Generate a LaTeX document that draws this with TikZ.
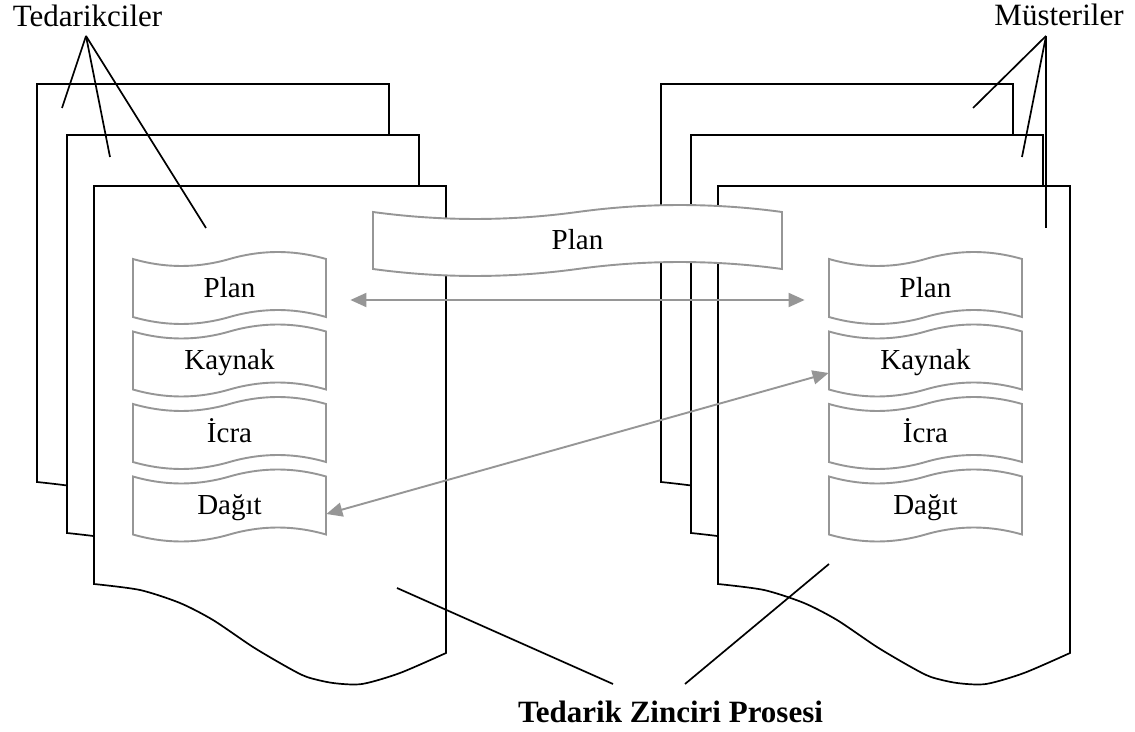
\documentclass[tikz,border=0pt]{standalone}
\usepackage{fontspec}
\setmainfont{Liberation Serif}
\usetikzlibrary{arrows.meta}
\definecolor{linegray}{RGB}{150,150,150}
\tikzset{
  docsheet/.style={draw=black, fill=white, line width=0.85pt},
  wavepath/.style={draw=linegray, fill=white, line width=0.95pt},
  steplabel/.style={inner sep=0pt, text height=9.4pt, text depth=0pt,
    font=\fontsize{14.5}{16}\selectfont},
  callout/.style={draw=black, line width=0.85pt},
  flow/.style={draw=linegray, line width=0.95pt,
    {Triangle[length=8pt,width=7pt]}-{Triangle[length=8pt,width=7pt]}},
  caption/.style={inner sep=0pt, font=\fontsize{15.5}{18}\selectfont}
}
% a sheet with a wavy lower edge, given by its top-left corner
\newcommand\sheet[2]{%
  \begin{scope}[shift={(#1,#2)}]
    \path[docsheet] (352,0) -- (0,0) -- (0,398)
      -- plot[smooth, tension=0.45] coordinates {(0,398) (46,404) (86,417) (119,434)
         (159,461) (193,481) (213,491) (239,497) (268,498) (306,487) (352,467)}
      -- cycle;
  \end{scope}}
% a wave-edged band: name, left x, top y, width, height, text
\newcommand\wbox[6]{%
  \path[wavepath] (#2,#3)
    .. controls ({#2+#4/6},{#3+9.3}) and ({#2+#4/3},{#3+9.3}) .. ({#2+#4/2},#3)
    .. controls ({#2+2*#4/3},{#3-9.3}) and ({#2+5*#4/6},{#3-9.3}) .. ({#2+#4},#3)
    -- ({#2+#4},{#3+#5})
    .. controls ({#2+5*#4/6},{#3+#5-9.3}) and ({#2+2*#4/3},{#3+#5-9.3}) .. ({#2+#4/2},{#3+#5})
    .. controls ({#2+#4/3},{#3+#5+9.3}) and ({#2+#4/6},{#3+#5+9.3}) .. (#2,{#3+#5})
    -- cycle;
  \node[steplabel, minimum width=#4*0.5pt] (#1) at ({#2+#4/2},{#3+#5/2}) {#6};}
\begin{document}
\begin{tikzpicture}[x=0.5pt, y=-0.5pt]
\useasboundingbox (0,0) rectangle (1135,732);

% supplier sheets
\sheet{37}{84}
\sheet{67}{135}
\sheet{94}{186}
% customer sheets
\sheet{661}{84}
\sheet{691}{135}
\sheet{718}{186}

% labels
\node[caption, anchor=base] (ted) at (87.5,27) {Tedarikciler};
\node[caption, anchor=base] (mus) at (1059,26) {Müsteriler};
\node[caption, anchor=base, font=\fontsize{15.5}{18}\selectfont\bfseries] (tzp) at (670.5,722) {Tedarik Zinciri Prosesi};

\coordinate (t1) at (62,108);
\coordinate (t2) at (110,157);
\coordinate (t3) at (206,228);
\coordinate (m1) at (973,108);
\coordinate (m2) at (1022,157);
\coordinate (m3) at (1046,228);
\coordinate (p1) at (397,588);
\coordinate (p2) at (829,564);

\foreach \e in {t1,t2,t3}
  \draw[callout] ([xshift=-0.75pt,yshift=-4.5pt]ted.base) -- (\e);
\foreach \e in {m1,m2,m3}
  \draw[callout] ([xshift=-6.5pt,yshift=-5pt]mus.base) -- (\e);
\draw[callout] ([xshift=-28.75pt,yshift=19pt]tzp.base) -- (p1);
\draw[callout] ([xshift=7.25pt,yshift=19pt]tzp.base) -- (p2);

% process steps, supplier side
\wbox{pl1}{133}{259}{193}{58}{Plan}
\wbox{pl2}{133}{331.5}{193}{58}{Kaynak}
\wbox{pl3}{133}{404}{193}{58}{İcra}
\wbox{pl4}{133}{476.5}{193}{58}{Dağıt}
% process steps, customer side
\wbox{pr1}{829}{259}{193}{58}{Plan}
\wbox{pr2}{829}{331.5}{193}{58}{Kaynak}
\wbox{pr3}{829}{404}{193}{58}{İcra}
\wbox{pr4}{829}{476.5}{193}{58}{Dağıt}

% links between the two sides
\draw[flow] ([xshift=12pt,yshift=-6pt]pl1.east) -- ([xshift=-12pt,yshift=-6pt]pr1.west);
\draw[flow] ([yshift=-4.25pt]pl4.east) -- ([yshift=-6.25pt]pr2.west);

% shared planning band
\wbox{plan}{373}{212}{409}{57}{Plan}
\end{tikzpicture}
\end{document}
